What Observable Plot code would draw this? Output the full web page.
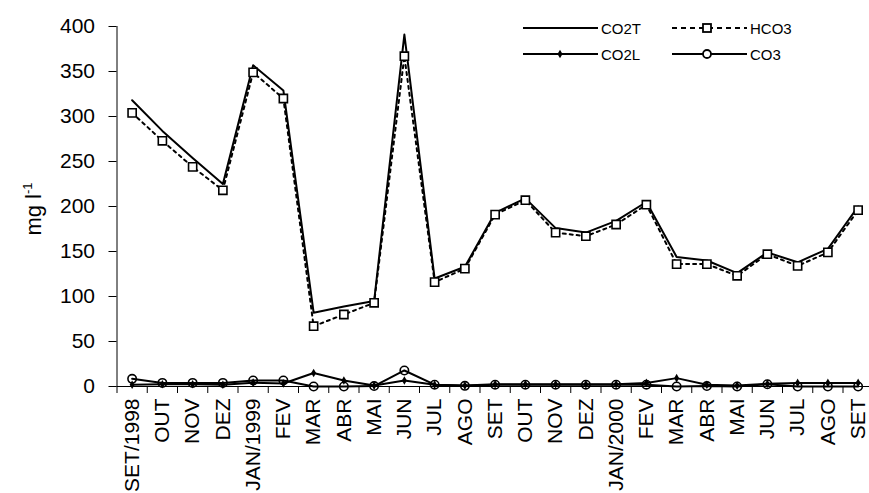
<!DOCTYPE html>
<html>
<head>
<meta charset="utf-8">
<script src="https://cdn.jsdelivr.net/npm/d3@7"></script>
<script src="https://cdn.jsdelivr.net/npm/@observablehq/plot@0.6"></script>
<style>
  html, body { margin: 0; padding: 0; background: #fff; }
  svg { font-family: "Liberation Sans", Arial, sans-serif; color: #000; }
</style>
</head>
<body>
<div id="chart"></div>
<script>
const months = ["SET/1998","OUT","NOV","DEZ","JAN/1999","FEV","MAR","ABR","MAI","JUN","JUL","AGO","SET","OUT","NOV","DEZ","JAN/2000","FEV","MAR","ABR","MAI","JUN","JUL","AGO","SET"];
const co2t = [318, 284, 254, 225, 357, 329, 82, 89, 95, 391, 120, 133, 193, 209, 176, 171, 184, 205, 144, 140, 126, 149, 138, 153, 200];
const hco3 = [304, 273, 244, 218, 349, 320, 67, 80, 93, 367, 116, 131, 191, 207, 171, 167, 180, 202, 136, 136, 123, 147, 134, 149, 196];
const co2l = [2, 2.5, 2.5, 2, 4.3, 3.3, 15, 6.7, 1, 6.7, 2, 1, 2.5, 2.5, 2.5, 2.5, 2.5, 4, 9.3, 2, 1, 3, 4, 4, 4];
const co3 = [8.5, 4, 4, 4, 6.7, 6.7, 0, 0, 0.5, 17.8, 2, 0.7, 2, 2, 2, 2, 2, 2, 0, 0.5, 0, 2.5, 0, 0, 0];
const yTicks = [0, 50, 100, 150, 200, 250, 300, 350, 400];
const seriesNames = ["CO2T", "HCO3", "CO2L", "CO3"];

const table = months.map((m, i) => ({i, m, co2t: co2t[i], hco3: hco3[i], co2l: co2l[i], co3: co3[i]}));
const centers = months.map((_, i) => i);
const bounds = months.map((_, i) => i - 0.5).concat([months.length - 0.5]);

const W = 869, H = 493;
const plot = Plot.plot({
  width: W, height: H,
  marginLeft: 116.5, marginRight: 0, marginTop: 26, marginBottom: 107,
  style: {background: "#fff", color: "#000", fontFamily: '"Liberation Sans", Arial, sans-serif'},
  x: {type: "linear", domain: [-0.5, months.length - 0.5], range: [116.5, 116.5 + 30.25 * months.length]},
  y: {domain: [0, 400]},
  marks: [
    Plot.axisY({ticks: yTicks, tickSize: 8, tickPadding: 14, fontSize: 21, label: null, stroke: "#000", fill: "#000"}),
    Plot.axisX({ticks: centers, tickFormat: i => months[i], tickRotate: -90, tickSize: 0, tickPadding: 12, fontSize: 21, label: null, fill: "#000"}),
    Plot.axisX({ticks: bounds, tickFormat: () => "", tickSize: 7, label: null, stroke: "#000"}),
    Plot.ruleY([0], {stroke: "#000", strokeWidth: 1}),
    Plot.ruleX([-0.5], {stroke: "#000", strokeWidth: 1}),
    Plot.line(table, {x: "i", y: "co2t", stroke: "#000", strokeWidth: 2}),
    Plot.line(table, {x: "i", y: "hco3", stroke: "#000", strokeWidth: 2, strokeDasharray: "3,4"}),
    Plot.dot(table, {x: "i", y: "hco3", symbol: "square", r: 4.6, fill: "#fff", stroke: "#000", strokeWidth: 1.6}),
    Plot.line(table, {x: "i", y: "co2l", stroke: "#000", strokeWidth: 2}),
    Plot.dot(table, {x: "i", y: "co2l", symbol: "diamond", r: 2.6, fill: "#000", stroke: "none"}),
    Plot.line(table, {x: "i", y: "co3", stroke: "#000", strokeWidth: 2}),
    Plot.dot(table, {x: "i", y: "co3", symbol: "circle", r: 4.2, fill: "none", stroke: "#000", strokeWidth: 1.6})
  ]
});
document.getElementById("chart").appendChild(plot);

const svg = d3.select(plot);
// y-axis title
const yl = svg.append("text")
  .attr("transform", "translate(41,209) rotate(-90)")
  .attr("text-anchor", "middle")
  .attr("font-size", 22)
  .attr("fill", "#000");
yl.append("tspan").text("mg l");
yl.append("tspan").attr("font-size", 13).attr("dy", -9).text("-1");

// legend
const lg = svg.append("g").attr("font-size", 15).attr("fill", "#000").attr("text-anchor", "start");
const entries = [
  {name: seriesNames[0], x: 523, y: 28, dash: null, sym: null},
  {name: seriesNames[1], x: 672, y: 28, dash: "5,4", sym: "square"},
  {name: seriesNames[2], x: 523, y: 54, dash: null, sym: "diamond"},
  {name: seriesNames[3], x: 672, y: 54, dash: null, sym: "circle"}
];
entries.forEach(e => {
  const g = lg.append("g").attr("transform", `translate(${e.x},${e.y})`);
  g.append("line").attr("x1", 0).attr("x2", 75).attr("y1", 0).attr("y2", 0)
    .attr("stroke", "#000").attr("stroke-width", 2).attr("stroke-dasharray", e.dash);
  const cx = e.x === 523 ? 37 : 35;
  if (e.sym === "square") {
    g.append("rect").attr("x", cx - 4).attr("y", -4).attr("width", 8).attr("height", 8)
      .attr("fill", "#fff").attr("stroke", "#000").attr("stroke-width", 1.8);
  } else if (e.sym === "diamond") {
    g.append("path").attr("transform", `translate(${cx},0)`)
      .attr("d", d3.symbol(d3.symbolDiamond, 22)()).attr("fill", "#000");
  } else if (e.sym === "circle") {
    g.append("circle").attr("cx", cx).attr("cy", 0).attr("r", 4)
      .attr("fill", "#fff").attr("stroke", "#000").attr("stroke-width", 1.8);
  }
  g.append("text").attr("x", 78).attr("y", 5.5).attr("text-anchor", "start").text(e.name);
});
</script>
</body>
</html>
